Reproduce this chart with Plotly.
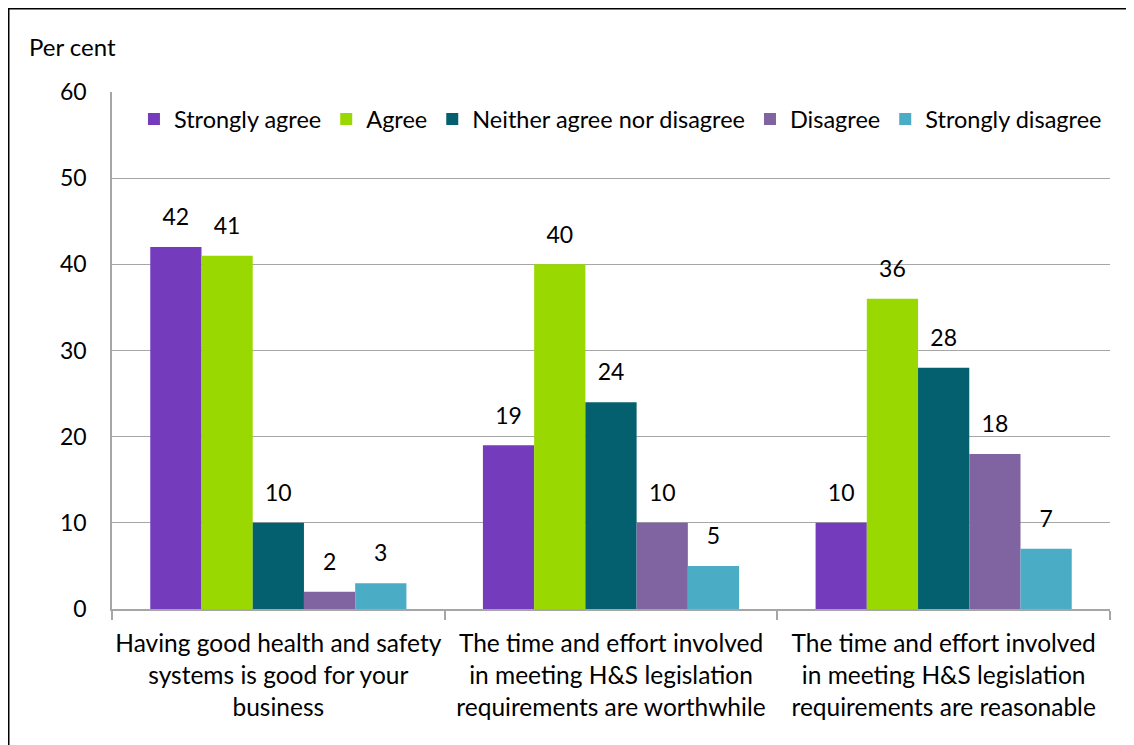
import plotly.graph_objects as go

categories = [
    "Having good health and safety<br>systems is good for your<br>business",
    "The time and effort involved<br>in meeting H&S legislation<br>requirements are worthwhile",
    "The time and effort involved<br>in meeting H&S legislation<br>requirements are reasonable",
]
series_names = ["Strongly agree", "Agree", "Neither agree nor disagree", "Disagree", "Strongly disagree"]
strongly_agree = [42, 19, 10]
agree = [41, 40, 36]
neither = [10, 24, 28]
disagree = [2, 10, 18]
strongly_disagree = [3, 5, 7]

COLORS = ["#753BBD", "#99D800", "#04606F", "#8064A2", "#4BACC6"]
GRID = "#A6A6A6"
FONT = "Lato, Carlito, Calibri, sans-serif"

# page body has an 8px margin, so the figure is a little smaller than the window
W, H = 1126, 737
L, T, R, B = 104, 84, 24, 136
PW, PH = W - L - R, H - T - B

fig = go.Figure()
for name, vals, col in zip(series_names,
                           [strongly_agree, agree, neither, disagree, strongly_disagree],
                           COLORS):
    fig.add_trace(go.Bar(
        x=categories, y=vals, name=name, offsetgroup=name,
        marker=dict(color=col, line=dict(width=0)),
        hoverinfo="x+y",
    ))
    # value labels, lifted above the bar tops
    fig.add_trace(go.Scatter(
        x=categories, y=vals, mode="markers+text", offsetgroup=name,
        marker=dict(size=24, opacity=0), text=[str(v) for v in vals],
        textposition="top center", textfont=dict(size=23, color="black", family=FONT),
        showlegend=False, hoverinfo="skip", cliponaxis=False,
    ))

fig.update_layout(
    width=W, height=H,
    barmode="group", bargap=0.23, bargroupgap=0,
    scattermode="group", scattergap=0.23,
    plot_bgcolor="white", paper_bgcolor="white",
    font=dict(family=FONT, size=23, color="black"),
    margin=dict(l=L, r=R, t=T, b=B),
    showlegend=True,
    legend=dict(orientation="h", x=0.022, y=0.99, xanchor="left", yanchor="top",
                bgcolor="rgba(0,0,0,0)", font=dict(size=23.5, family=FONT),
                itemwidth=30, tracegroupgap=0),
)
fig.update_yaxes(range=[0, 60], dtick=10, showgrid=True, gridcolor=GRID, gridwidth=1.3,
                 showline=True, linecolor=GRID, linewidth=1.5, zeroline=False,
                 ticks="", ticklabelstandoff=19, tickfont=dict(size=23, family=FONT))
fig.update_xaxes(showgrid=False, showline=True, linecolor=GRID, linewidth=1.5,
                 ticks="outside", tickson="boundaries", ticklen=9, tickcolor=GRID,
                 tickwidth=1.5, ticklabelstandoff=12, tickfont=dict(size=24.5, family=FONT),
                 tickangle=0)

fig.add_annotation(text="Per cent", xref="paper", yref="paper", x=(19 - L) / PW,
                   y=1 + (T - 39) / PH, xanchor="left", yanchor="middle", showarrow=False,
                   font=dict(size=24, family=FONT))
# outer frame
fig.add_shape(type="rect", xref="paper", yref="paper",
              x0=(0.75 - L) / PW, x1=(1122 - L) / PW, y0=-0.5, y1=1 + (T - 0.75) / PH,
              line=dict(color="black", width=1.5), fillcolor="rgba(0,0,0,0)", layer="below")

fig.write_html("out.html")
